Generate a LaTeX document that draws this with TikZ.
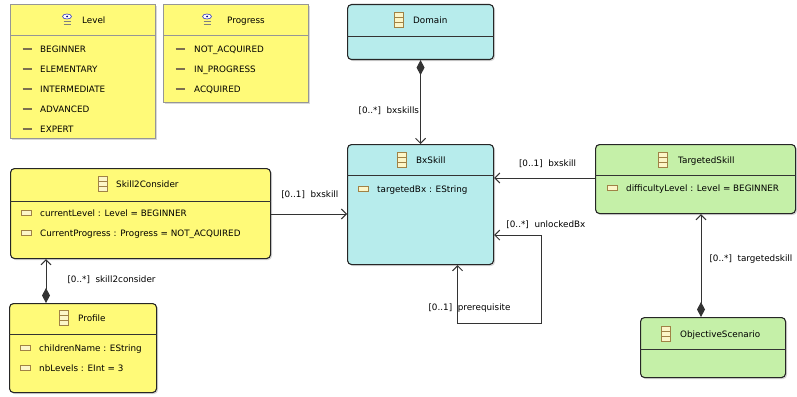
\documentclass[tikz,border=0pt]{standalone}
\usepackage{fontspec}
\setmainfont{DejaVu Sans}
\usetikzlibrary{positioning, arrows.meta, shadows}
\definecolor{ecyellow}{RGB}{255,250,120}
\definecolor{eccyan}{RGB}{183,236,236}
\definecolor{ecgreen}{RGB}{197,240,168}
\definecolor{enumgray}{RGB}{150,150,150}
\definecolor{icontan}{RGB}{160,130,70}
\definecolor{iconfill}{RGB}{252,246,200}
\definecolor{litgray}{RGB}{125,112,80}
\tikzset{
  clsicon/.pic={
    \draw[icontan, fill=iconfill, line width=0.7pt] (-4.5,-7.5) rectangle (4.5,7.5);
    \draw[icontan, line width=0.7pt] (-4.5,-2.5) -- (4.5,-2.5) (-4.5,2.5) -- (4.5,2.5);
  },
  attricon/.pic={
    \draw[icontan, fill=iconfill, line width=0.7pt] (-5,-2.5) rectangle (5,2.5);
  },
  litdash/.pic={
    \draw[litgray, line width=1.8pt] (-4.5,0) -- (4.5,0);
  },
  enumicon/.pic={
    \draw[blue!55!gray, fill=white, line width=0.6pt] (0,-3.5) ellipse (4.5 and 2.5);
    \fill[blue!50!black] (0,-3.5) circle (1);
    \draw[gray, line width=0.8pt] (-3.5,1.5) -- (3.5,1.5) (-3.5,4) -- (3.5,4);
  }
}
\begin{document}
\begin{tikzpicture}[x=1pt, y=-1pt, font=\fontsize{8.8}{10}\selectfont]
    % Define block styles
    \tikzstyle{enumbox} = [rectangle, draw=enumgray, line width=1pt, fill=ecyellow, inner sep=0pt, anchor=north west, drop shadow={shadow xshift=1.5pt, shadow yshift=-1.5pt, fill=black!30}]
    \tikzstyle{classbox} = [rectangle, rounded corners=4pt, draw=black!85, line width=1.1pt, inner sep=0pt, anchor=north west, drop shadow={shadow xshift=1.5pt, shadow yshift=-1.5pt, fill=black!30}]
    \tikzstyle{txt} = [inner sep=0pt, anchor=west, text height=6.4pt, text depth=0pt]
    \tikzstyle{role} = [inner sep=0pt, text height=6.4pt, text depth=0pt]
    \tikzstyle{line} = [line width=1pt, draw=black!80]
    \tikzstyle{ref} = [line, -{Straight Barb[length=5pt, width=10pt]}]
    \tikzstyle{comp} = [line, {Diamond[length=15pt, width=8pt]}-{Straight Barb[length=5pt, width=10pt]}]
    \useasboundingbox (0,0) rectangle (797,396);

    % Enumerations
    \node [enumbox, minimum width=145pt, minimum height=134pt] (level) at (10,4) {};
    \draw [enumgray, line width=1pt] ([yshift=-32pt]level.north west) -- ([yshift=-32pt]level.north east);
    \pic at (67,20) {enumicon};
    \node [txt] (levelT) at (82,20) {Level};
    \foreach \lit [count=\i] in {BEGINNER, ELEMENTARY, INTERMEDIATE, ADVANCED, EXPERT} {
      \pic at (27,29+20*\i) {litdash};
      \node [txt] (levelL\i) at (40,29+20*\i) {\lit};
    }

    \node [enumbox, minimum width=145pt, minimum height=98pt] (progress) at (163,4) {};
    \draw [enumgray, line width=1pt] ([yshift=-32pt]progress.north west) -- ([yshift=-32pt]progress.north east);
    \pic at (207,20) {enumicon};
    \node [txt] (progressT) at (227,20) {Progress};
    \foreach \lit [count=\i] in {NOT\_ACQUIRED, IN\_PROGRESS, ACQUIRED} {
      \pic at (180,29+20*\i) {litdash};
      \node [txt] (progressL\i) at (194,29+20*\i) {\lit};
    }

    % Classes
    \node [classbox, fill=eccyan, minimum width=146pt, minimum height=55pt] (domain) at (347,4) {};
    \draw [line] ([yshift=-33pt]domain.north west) -- ([yshift=-33pt]domain.north east);
    \pic at (399,20) {clsicon};
    \node [txt] (domainT) at (413,20) {Domain};

    \node [classbox, fill=eccyan, minimum width=146pt, minimum height=120pt] (bxskill) at (347,144) {};
    \draw [line] ([yshift=-31pt]bxskill.north west) -- ([yshift=-31pt]bxskill.north east);
    \pic at (402,160) {clsicon};
    \node [txt] (bxskillT) at (416,160) {BxSkill};
    \pic at (363,189) {attricon};
    \node [txt] (bxskillA) at (377,189) {targetedBx : EString};

    \node [classbox, fill=ecgreen, minimum width=200pt, minimum height=69pt] (targeted) at (595,144) {};
    \draw [line] ([yshift=-31pt]targeted.north west) -- ([yshift=-31pt]targeted.north east);
    \pic at (663,160) {clsicon};
    \node [txt] (targetedT) at (678,160) {TargetedSkill};
    \pic at (612,188) {attricon};
    \node [txt] (targetedA) at (626,188) {difficultyLevel : Level = BEGINNER};

    \node [classbox, fill=ecgreen, minimum width=145pt, minimum height=60pt] (objective) at (640,317) {};
    \draw [line] ([yshift=-32pt]objective.north west) -- ([yshift=-32pt]objective.north east);
    \pic at (666,334) {clsicon};
    \node [txt] (objectiveT) at (680,334) {ObjectiveScenario};

    \node [classbox, fill=ecyellow, minimum width=260pt, minimum height=90pt] (skill2) at (10,168) {};
    \draw [line] ([yshift=-33pt]skill2.north west) -- ([yshift=-33pt]skill2.north east);
    \pic at (103,184) {clsicon};
    \node [txt] (skill2T) at (116,184) {Skill2Consider};
    \pic at (26,213) {attricon};
    \node [txt] (skill2A1) at (40,213) {currentLevel : Level = BEGINNER};
    \pic at (26,233) {attricon};
    \node [txt] (skill2A2) at (40,233) {CurrentProgress : Progress = NOT\_ACQUIRED};

    \node [classbox, fill=ecyellow, minimum width=147pt, minimum height=89pt] (profile) at (9,303) {};
    \draw [line] ([yshift=-31pt]profile.north west) -- ([yshift=-31pt]profile.north east);
    \pic at (64,318) {clsicon};
    \node [txt] (profileT) at (78,318) {Profile};
    \pic at (25,348) {attricon};
    \node [txt] (profileA1) at (39,348) {childrenName : EString};
    \pic at (25,368) {attricon};
    \node [txt] (profileA2) at (39,368) {nbLevels : EInt = 3};

    % Connections
    \draw [comp] (domain) -- node [role, pos=0.6, left=1pt] {[0..*]~~bxskills} (bxskill);
    \draw [ref] ([yshift=-34pt]targeted.north west) -- node [role, pos=0.47, above=11pt] {[0..1]~~bxskill} ([yshift=-34pt]bxskill.north east);
    \draw [ref] ([yshift=-46pt]skill2.north east) -- node [role, pos=0.51, above=16pt] {[0..1]~~bxskill} ([yshift=-70pt]bxskill.north west);
    \draw [comp] ([xshift=37pt]profile.north west) -- node [role, pos=0.53, right=21pt] {[0..*]~~skill2consider} ([xshift=36pt]skill2.south west);
    \draw [comp] ([xshift=61pt]objective.north west) -- node [role, pos=0.57, right=8pt] {[0..*]~~targetedskill} ([xshift=106pt]targeted.south west);
    \draw [line, {Straight Barb[length=5pt, width=10pt]}-{Straight Barb[length=5pt, width=10pt]}] ([xshift=37pt]bxskill.south) -- node [role, pos=0.72, xshift=12pt] {[0..1]~~prerequisite} ++(0,58) -- ++(84,0) -- ++(0,-88) -- node [role, pos=0.75, anchor=south west, yshift=7pt] {[0..*]~~unlockedBx} ([yshift=30pt]bxskill.south east);

  \end{tikzpicture}
\end{document}
